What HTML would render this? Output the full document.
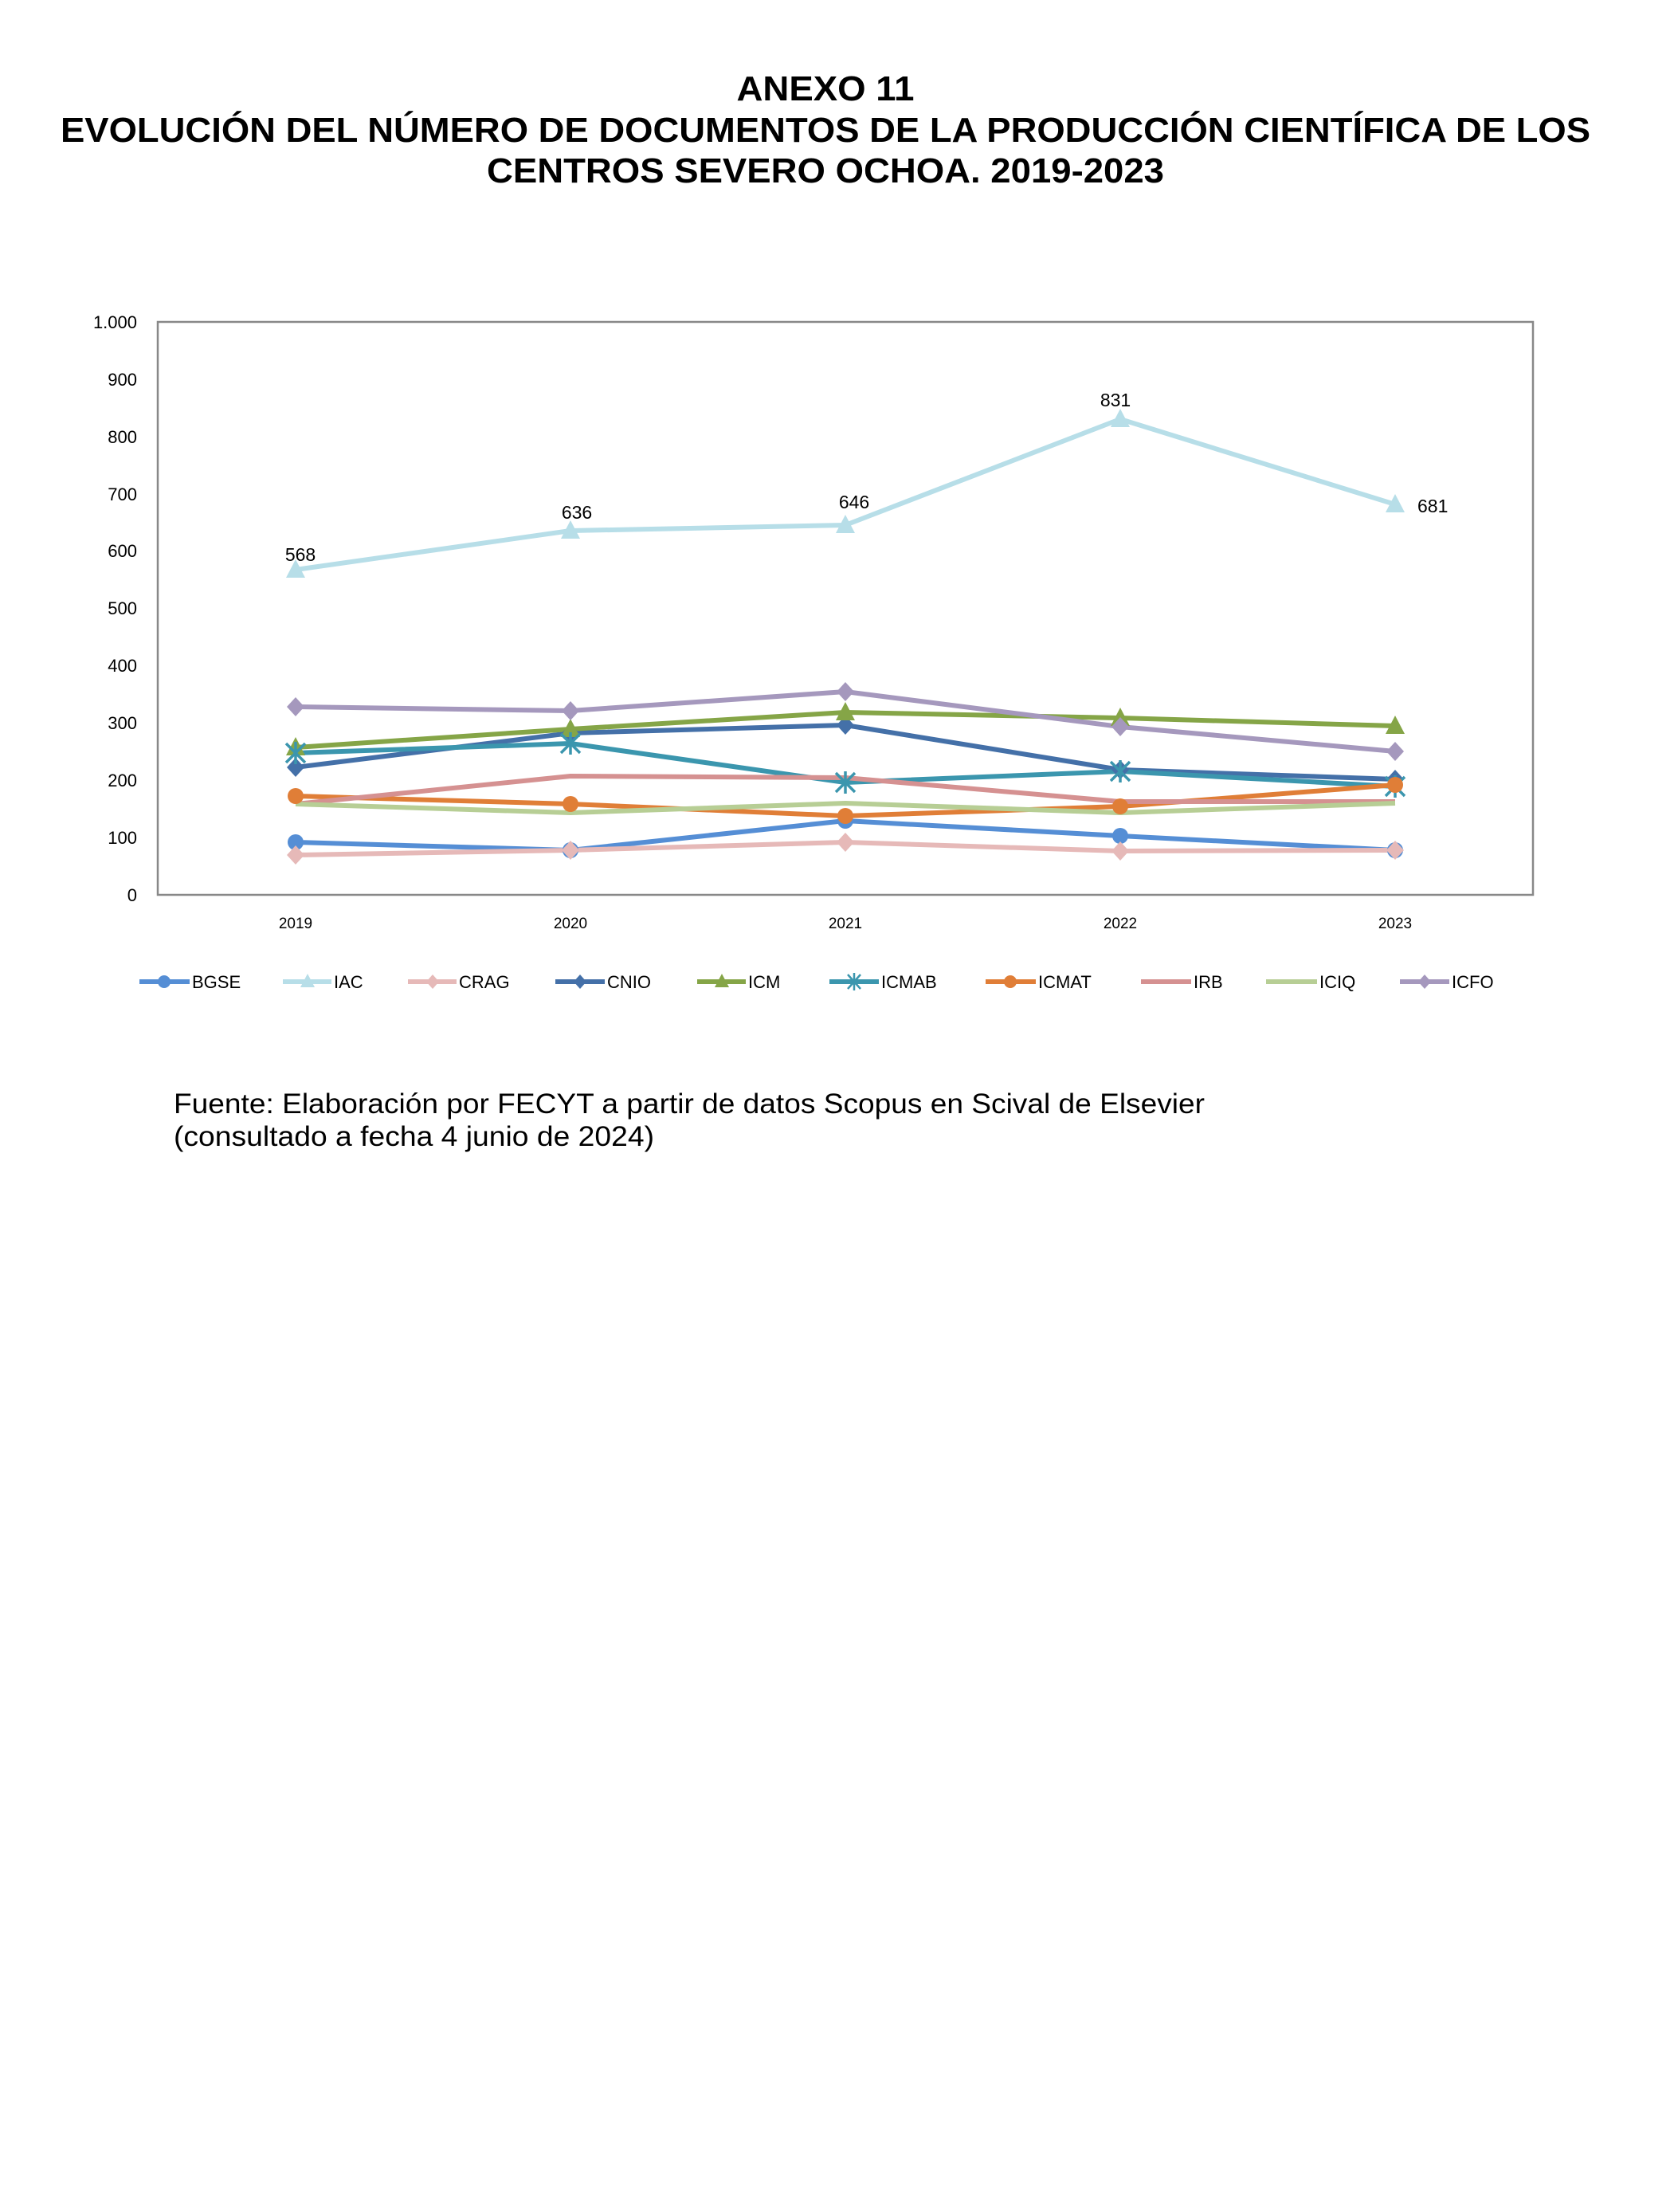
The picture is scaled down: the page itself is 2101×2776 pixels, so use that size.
<!DOCTYPE html>
<html><head><meta charset="utf-8"><style>html,body{margin:0;padding:0;background:#fff}svg{display:block}</style></head>
<body>
<svg width="2101" height="2776" viewBox="0 0 2101 2776" xmlns="http://www.w3.org/2000/svg">
<defs>
<path id="tri" d="M0,-13 L12,10 L-12,10 Z"/>
<path id="dia" d="M0,-12 L11,0 L0,12 L-11,0 Z"/>
<g id="ast" stroke-width="3.5" fill="none"><path d="M-12,-12 L12,12 M-12,12 L12,-12 M0,-14 L0,14"/></g>
</defs>
<g font-family="Liberation Sans, sans-serif" font-weight="bold" font-size="44" text-anchor="middle" fill="#000">
<text x="1036" y="126" textLength="223" lengthAdjust="spacingAndGlyphs">ANEXO 11</text>
<text x="1036" y="178" textLength="1920" lengthAdjust="spacingAndGlyphs">EVOLUCIÓN DEL NÚMERO DE DOCUMENTOS DE LA PRODUCCIÓN CIENTÍFICA DE LOS</text>
<text x="1036" y="229" textLength="850" lengthAdjust="spacingAndGlyphs">CENTROS SEVERO OCHOA. 2019-2023</text>
</g>
<rect x="198" y="404" width="1726" height="719" fill="none" stroke="#888" stroke-width="2.5"/>
<g font-family="Liberation Sans, sans-serif" font-size="22" text-anchor="end" fill="#000">
<text x="172" y="1131">0</text><text x="172" y="1059">100</text><text x="172" y="987">200</text><text x="172" y="915">300</text><text x="172" y="843">400</text><text x="172" y="771">500</text><text x="172" y="699">600</text><text x="172" y="628">700</text><text x="172" y="556">800</text><text x="172" y="484">900</text><text x="172" y="412">1.000</text>
</g>
<g font-family="Liberation Sans, sans-serif" font-size="19" text-anchor="middle" fill="#000">
<text x="371" y="1165">2019</text><text x="716" y="1165">2020</text><text x="1061" y="1165">2021</text><text x="1406" y="1165">2022</text><text x="1751" y="1165">2023</text>
</g>
<g fill="none" stroke-width="6" stroke-linejoin="round">
<polyline stroke="#558ED5" points="371,1057 716,1067 1061,1030 1406,1049 1751,1067"/>
<polyline stroke="#B7DEE8" points="371,715 716,666 1061,659 1406,526 1751,633"/>
<polyline stroke="#E6B9B8" points="371,1073 716,1067 1061,1057 1406,1068 1751,1067"/>
<polyline stroke="#4470A8" points="371,963 716,920 1061,910 1406,966 1751,978"/>
<polyline stroke="#85A547" points="371,938 716,915 1061,894 1406,901 1751,911"/>
<polyline stroke="#3B96AE" points="371,945 716,933 1061,982 1406,968 1751,987"/>
<polyline stroke="#E07E37" points="371,999 716,1009 1061,1024 1406,1012 1751,985"/>
<polyline stroke="#D59191" points="371,1009 716,974 1061,976 1406,1006 1751,1006"/>
<polyline stroke="#B7CE95" points="371,1009 716,1020 1061,1008 1406,1020 1751,1008"/>
<polyline stroke="#A598BD" points="371,887 716,892 1061,868 1406,912 1751,943"/>
</g>
<g fill="#558ED5"><circle cx="371" cy="1057" r="10"/><circle cx="716" cy="1067" r="10"/><circle cx="1061" cy="1030" r="10"/><circle cx="1406" cy="1049" r="10"/><circle cx="1751" cy="1067" r="10"/></g>
<g fill="#B7DEE8"><use href="#tri" x="371" y="715"/><use href="#tri" x="716" y="666"/><use href="#tri" x="1061" y="659"/><use href="#tri" x="1406" y="526"/><use href="#tri" x="1751" y="633"/></g>
<g fill="#E6B9B8"><use href="#dia" x="371" y="1073"/><use href="#dia" x="716" y="1067"/><use href="#dia" x="1061" y="1057"/><use href="#dia" x="1406" y="1068"/><use href="#dia" x="1751" y="1067"/></g>
<g fill="#4470A8"><use href="#dia" x="371" y="963"/><use href="#dia" x="716" y="920"/><use href="#dia" x="1061" y="910"/><use href="#dia" x="1406" y="966"/><use href="#dia" x="1751" y="978"/></g>
<g fill="#85A547"><use href="#tri" x="371" y="938"/><use href="#tri" x="716" y="915"/><use href="#tri" x="1061" y="894"/><use href="#tri" x="1406" y="901"/><use href="#tri" x="1751" y="911"/></g>
<g stroke="#3B96AE"><use href="#ast" x="371" y="945"/><use href="#ast" x="716" y="933"/><use href="#ast" x="1061" y="982"/><use href="#ast" x="1406" y="968"/><use href="#ast" x="1751" y="987"/></g>
<g fill="#E07E37"><circle cx="371" cy="999" r="10"/><circle cx="716" cy="1009" r="10"/><circle cx="1061" cy="1024" r="10"/><circle cx="1406" cy="1012" r="10"/><circle cx="1751" cy="985" r="10"/></g>
<g fill="#A598BD"><use href="#dia" x="371" y="887"/><use href="#dia" x="716" y="892"/><use href="#dia" x="1061" y="868"/><use href="#dia" x="1406" y="912"/><use href="#dia" x="1751" y="943"/></g>
<g font-family="Liberation Sans, sans-serif" font-size="23" fill="#000" text-anchor="middle">
<text x="377" y="704">568</text><text x="724" y="651">636</text><text x="1072" y="638">646</text><text x="1400" y="510">831</text><text x="1779" y="643" text-anchor="start">681</text>
</g>
<g stroke-width="6" fill="none">
<line x1="175" y1="1232" x2="238" y2="1232" stroke="#558ED5"/>
<line x1="355" y1="1232" x2="416" y2="1232" stroke="#B7DEE8"/>
<line x1="512" y1="1232" x2="573" y2="1232" stroke="#E6B9B8"/>
<line x1="697" y1="1232" x2="759" y2="1232" stroke="#4470A8"/>
<line x1="875" y1="1232" x2="936" y2="1232" stroke="#85A547"/>
<line x1="1041" y1="1232" x2="1103" y2="1232" stroke="#3B96AE"/>
<line x1="1237" y1="1232" x2="1300" y2="1232" stroke="#E07E37"/>
<line x1="1432" y1="1232" x2="1495" y2="1232" stroke="#D59191"/>
<line x1="1589" y1="1232" x2="1653" y2="1232" stroke="#B7CE95"/>
<line x1="1757" y1="1232" x2="1819" y2="1232" stroke="#A598BD"/>
</g>
<circle cx="206" cy="1232" r="8" fill="#558ED5"/>
<path d="M386,1222 L395,1239 L377,1239 Z" fill="#B7DEE8"/>
<path d="M543,1223 L551,1232 L543,1241 L535,1232 Z" fill="#E6B9B8"/>
<path d="M728,1223 L736,1232 L728,1241 L720,1232 Z" fill="#4470A8"/>
<path d="M906,1222 L915,1239 L897,1239 Z" fill="#85A547"/>
<g stroke="#3B96AE" stroke-width="2.5"><path d="M1064,1223 L1080,1241 M1064,1241 L1080,1223 M1072,1221 L1072,1243"/></g>
<circle cx="1268" cy="1232" r="8" fill="#E07E37"/>
<path d="M1788,1223 L1796,1232 L1788,1241 L1780,1232 Z" fill="#A598BD"/>
<g font-family="Liberation Sans, sans-serif" font-size="22" fill="#000">
<text x="241" y="1240">BGSE</text><text x="419" y="1240">IAC</text><text x="576" y="1240">CRAG</text><text x="762" y="1240">CNIO</text><text x="939" y="1240">ICM</text><text x="1106" y="1240">ICMAB</text><text x="1303" y="1240">ICMAT</text><text x="1498" y="1240">IRB</text><text x="1656" y="1240">ICIQ</text><text x="1822" y="1240">ICFO</text>
</g>
<g font-family="Liberation Sans, sans-serif" font-size="35" fill="#000">
<text x="218" y="1397" textLength="1294" lengthAdjust="spacingAndGlyphs">Fuente: Elaboración por FECYT a partir de datos Scopus en Scival de Elsevier</text>
<text x="218" y="1438" textLength="603" lengthAdjust="spacingAndGlyphs">(consultado a fecha 4 junio de 2024)</text>
</g>
</svg>
</body></html>
